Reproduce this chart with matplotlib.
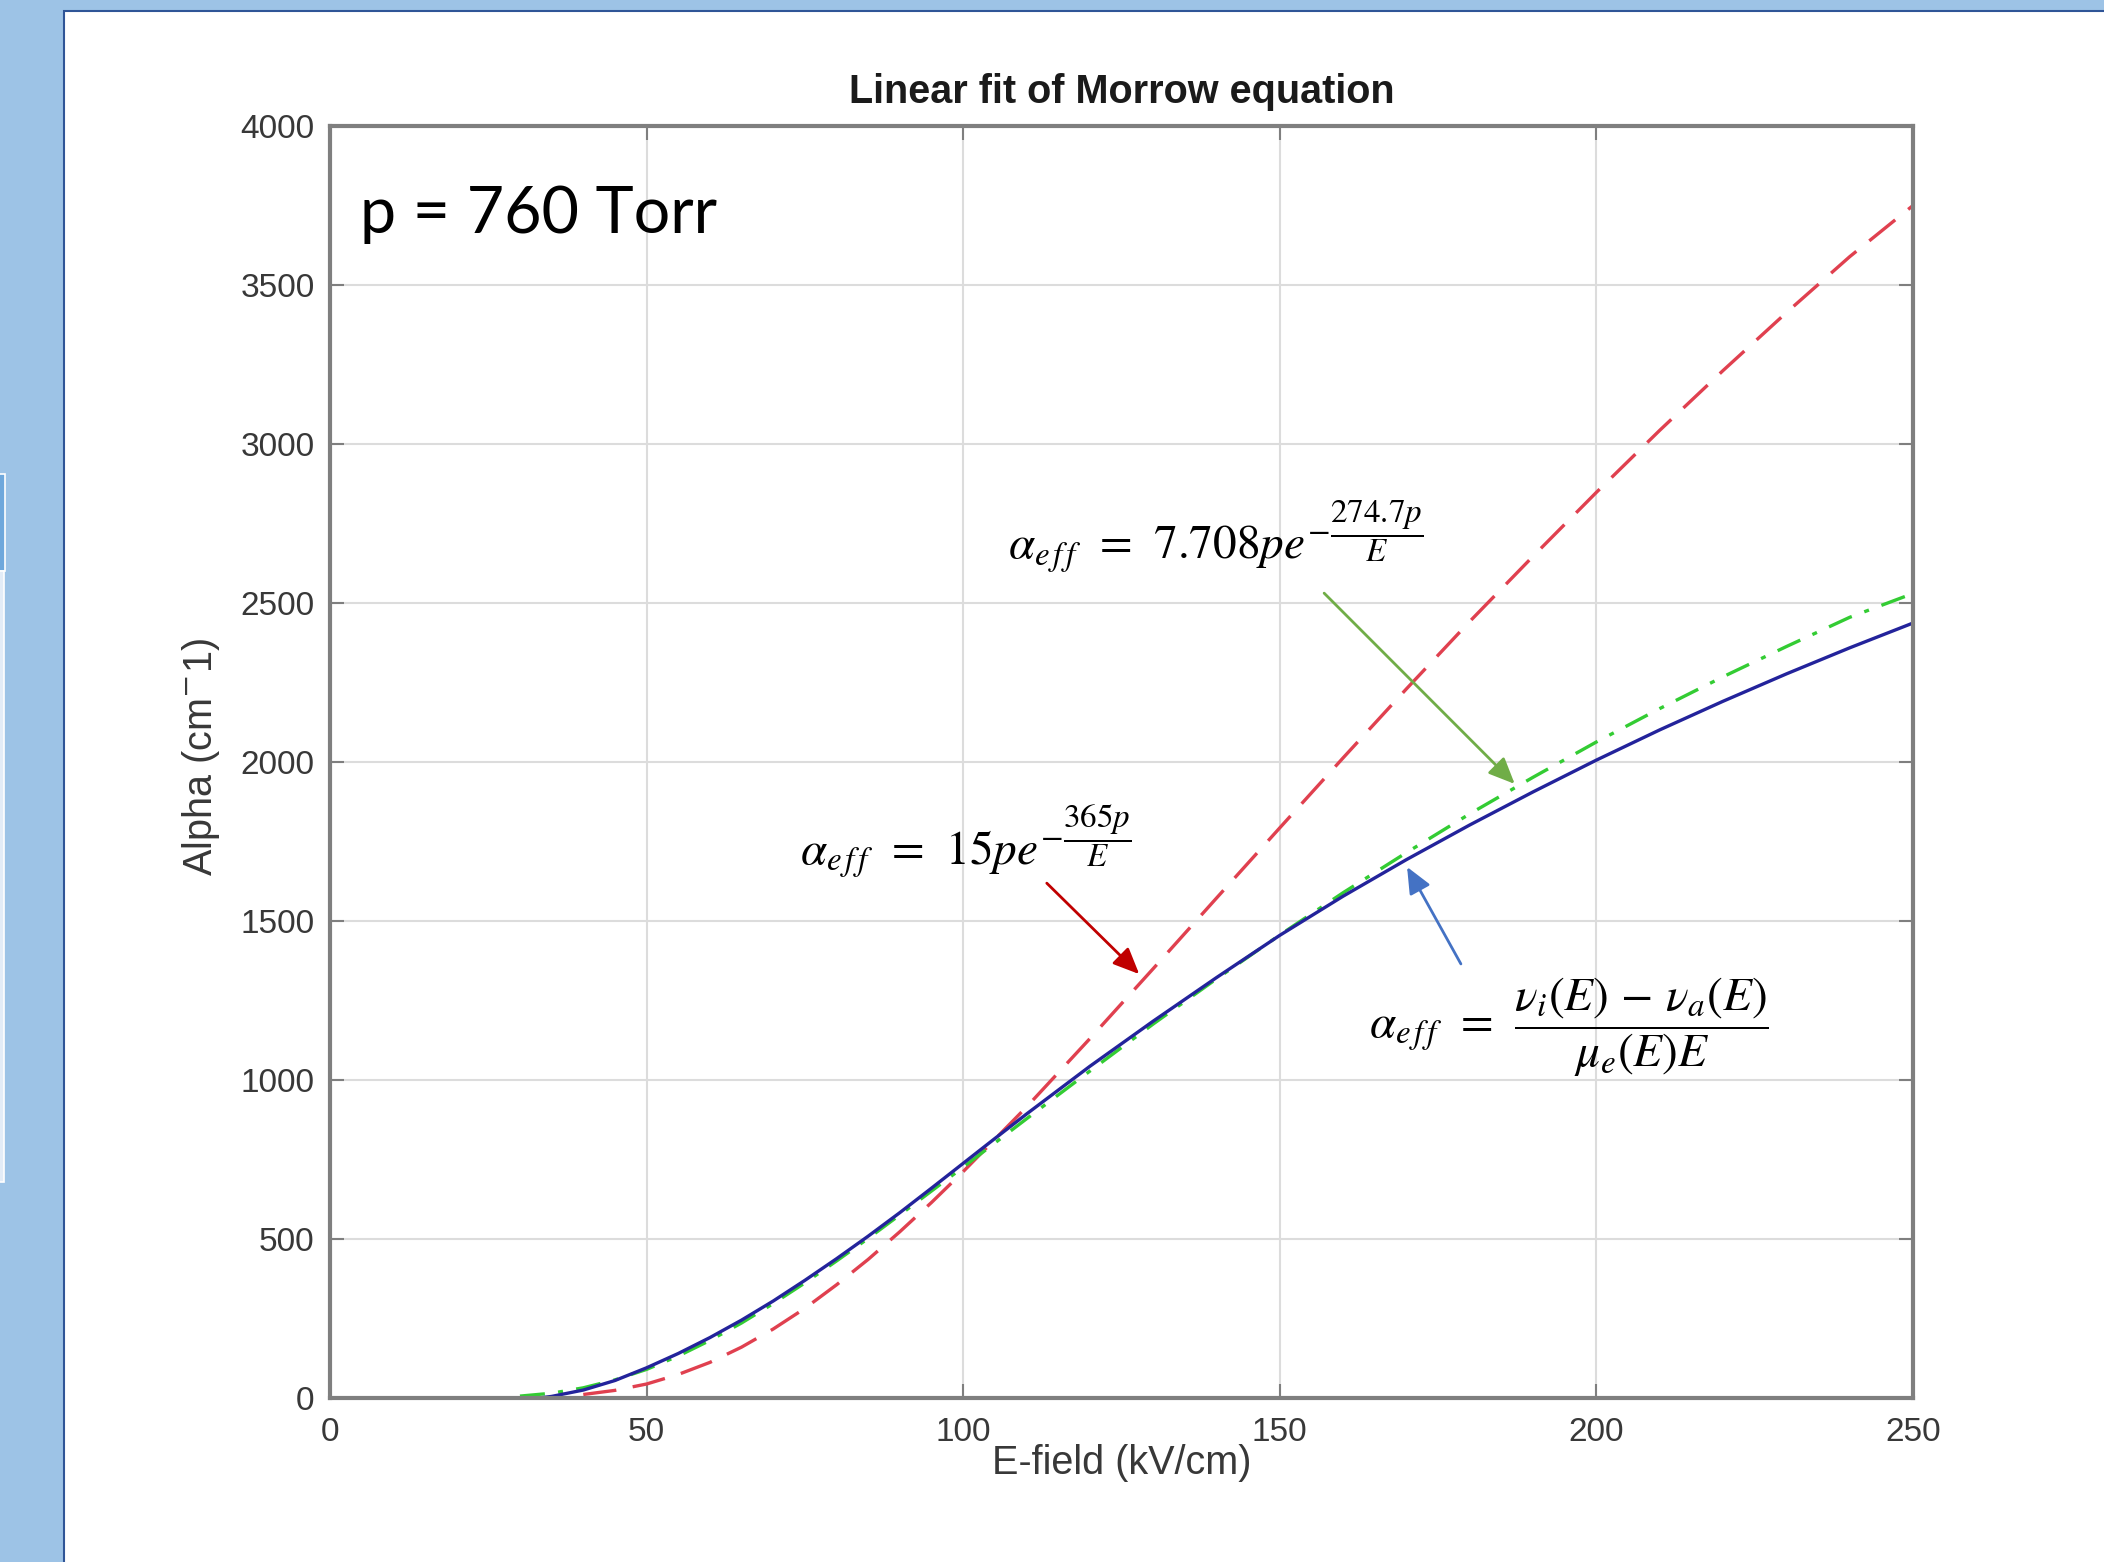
import matplotlib.pyplot as plt
from matplotlib.patches import Rectangle

# E-field (kV/cm) and alpha (cm^-1)
E_model = [33, 35, 40, 45, 50, 55, 60, 65, 70, 75, 80, 85, 90, 95, 100, 105,
           110, 120, 130, 140, 150, 160, 170, 180, 190, 200, 210, 220, 230, 240, 250]
alpha_model = [0, 5, 25, 55, 95, 140, 190, 245, 305, 370, 438, 509, 583, 660, 738, 816,
               893, 1043, 1185, 1322, 1455, 1578, 1693, 1802, 1906, 2006, 2101, 2191, 2277, 2359, 2437]

# fit 15 p exp(-365 p / E)
E_fit1 = [40, 45, 50, 55, 60, 65, 70, 75, 80, 85, 90, 95, 100,
          110, 120, 130, 140, 150, 160, 170, 180, 190, 200, 210, 220, 230, 240, 250]
alpha_fit1 = [11, 24, 44, 74, 112, 160, 217, 282, 356, 436, 523, 615, 712,
              915, 1130, 1350, 1572, 1793, 2013, 2230, 2442, 2647, 2848, 3043, 3231, 3413, 3589, 3750]

# fit 7.708 p exp(-274.7 p / E)
E_fit2 = [30, 35, 40, 45, 50, 55, 60, 65, 70, 75, 80, 85, 90, 95, 100,
          110, 120, 130, 140, 150, 160, 170, 180, 190, 200, 210, 220, 230, 240, 250]
alpha_fit2 = [6, 15, 32, 57, 90, 132, 181, 236, 297, 362, 431, 502, 576, 651, 726,
              878, 1028, 1176, 1318, 1456, 1589, 1715, 1837, 1952, 2063, 2168, 2268, 2363, 2455, 2530]

x_ticks = [0, 50, 100, 150, 200, 250]
y_ticks = [0, 500, 1000, 1500, 2000, 2500, 3000, 3500, 4000]

plt.rcParams['font.family'] = ['Liberation Sans', 'DejaVu Sans']

W, H = 2104, 1562
fig = plt.figure(figsize=(W / 100, H / 100), dpi=100, facecolor='#9dc3e6')

# slide background and the thumbnail strip on the left
fig.patches.append(Rectangle((64 / W, -0.05), 1.0, 1.05 - 11 / H, transform=fig.transFigure,
                             facecolor='white', edgecolor='#2f5597', lw=1.5, zorder=-2))
fig.patches.append(Rectangle((-0.01, 1 - 571 / H), 0.01 + 5 / W, 97 / H, transform=fig.transFigure,
                             facecolor='#6fa8dc', edgecolor='white', lw=1.2, zorder=-2))
fig.patches.append(Rectangle((-0.01, 1 - 1182 / H), 0.01 + 4 / W, 611 / H, transform=fig.transFigure,
                             facecolor='#e3ecf7', edgecolor='white', lw=1.2, zorder=-2))

ax = fig.add_axes([330 / W, 1 - 1398 / H, 1583 / W, 1272 / H])
ax.patch.set_alpha(0)
ax.plot(E_fit1, alpha_fit1, color='#e0404f', lw=2.4, dashes=(10, 5))
ax.plot(E_fit2, alpha_fit2, color='#33cc33', lw=2.4, dashes=(7.5, 4, 1.5, 4))
ax.plot(E_model, alpha_model, color='#23239b', lw=2.4)

ax.set_xlim(0, 250)
ax.set_ylim(0, 4000)
ax.set_xticks(x_ticks)
ax.set_yticks(y_ticks)
ax.grid(True, color='#dcdcdc', lw=1.5)
ax.set_axisbelow(True)
ax.tick_params(direction='in', length=10, width=1.5, top=True, right=True,
               labelsize=24, colors='#7f7f7f', labelcolor='#383838')
ax.tick_params(axis='x', pad=14)
ax.tick_params(axis='y', pad=11)
for s in ax.spines.values():
    s.set_color('#7f7f7f')
    s.set_linewidth(3)

ax.set_title('Linear fit of Morrow equation', fontsize=28.5, fontweight='bold',
             color='#1a1a1a', y=1.018, pad=0)
ax.set_xlabel('E-field (kV/cm)', fontsize=28.5, color='#383838')
ax.xaxis.set_label_coords(0.5, -0.036)
ax.set_ylabel('Alpha (cm$^{-}$1)', fontsize=28.5, color='#383838')
ax.yaxis.set_label_coords(-0.068, 0.504)

ax.text(4.74, 3663, 'p = 760 Torr', fontsize=46.5, family='Lato', color='black')

# equations
ax.text(107.1, 2635, r'$\alpha_{e\,f\,f}\;\,=\;\,7.708pe^{-\dfrac{274.7p}{E}}$',
        fontsize=34, math_fontfamily='stix', va='baseline')
ax.text(74.2, 1677, r'$\alpha_{e\,f\,f}\;\,=\;\,15pe^{-\dfrac{365p}{E}}$',
        fontsize=34, math_fontfamily='stix', va='baseline')
ax.text(164.1, 1165, r'$\alpha_{e\,f\,f}\;\,=\;\,\dfrac{\nu_i(E)\,-\,\nu_a(E)}{\mu_e(E)E}$',
        fontsize=34, math_fontfamily='stix', va='center')

arrow = '-|>,head_length=0.8,head_width=0.35'
ax.annotate('', xy=(187.1, 1931), xytext=(157.0, 2531),
            arrowprops=dict(arrowstyle=arrow, color='#70ad47', lw=2, shrinkA=0, shrinkB=0, mutation_scale=20))
ax.annotate('', xy=(127.8, 1333), xytext=(113.2, 1619),
            arrowprops=dict(arrowstyle=arrow, color='#c00000', lw=2, shrinkA=0, shrinkB=0, mutation_scale=20))
ax.annotate('', xy=(170.1, 1670), xytext=(178.6, 1365),
            arrowprops=dict(arrowstyle=arrow, color='#4472c4', lw=2, shrinkA=0, shrinkB=0, mutation_scale=20))

fig.savefig('out.png', dpi=100, facecolor=fig.get_facecolor())
